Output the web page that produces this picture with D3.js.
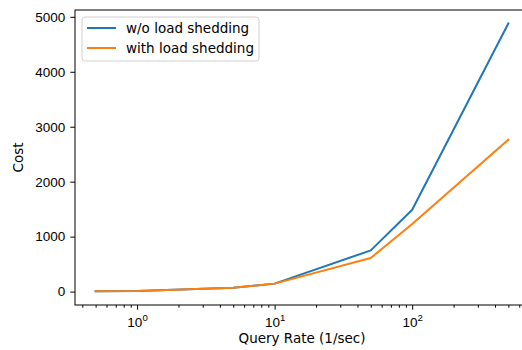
<!DOCTYPE html>
<html>
<head>
<meta charset="utf-8">
<script src="https://cdn.jsdelivr.net/npm/d3@7"></script>
<style>
  body { margin: 0; background: #fff; }
  svg { display: block; font-family: "DejaVu Sans", sans-serif; }
  .axis text { font-size: 13.5px; fill: #000; }
  .axis path, .axis line { stroke: #000; stroke-width: 1; }
</style>
</head>
<body>
<div id="chart"></div>
<script>
// query rates (1/sec)
var rates = [0.5, 1, 5, 10, 50, 100, 500];
// cost
var costNoShed   = [5, 12, 70, 145, 750, 1490, 4880];
var costWithShed = [5, 12, 70, 145, 612, 1230, 2765];
var seriesNames  = ['w/o load shedding', 'with load shedding'];
var seriesColors = ['#1f77b4', '#ff7f0e'];
var yTicks = [0, 1000, 2000, 3000, 4000, 5000];
var xMajorExps = [0, 1, 2];

var W = 522, H = 350;
var margin = { top: 10, right: -7, bottom: 45, left: 75 };
var width  = W - margin.left - margin.right;
var height = H - margin.top - margin.bottom;

var svg = d3.select('#chart').append('svg')
  .attr('width', W).attr('height', H);

var chart = svg.append('g')
  .attr('transform', 'translate(' + margin.left + ',' + margin.top + ')');

/* matplotlib-style 5% padding in log space */
var lx0 = Math.log10(d3.min(rates)), lx1 = Math.log10(d3.max(rates));
var padX = (lx1 - lx0) * 0.05;
var x = d3.scaleLog()
  .domain([Math.pow(10, lx0 - padX), Math.pow(10, lx1 + padX)])
  .range([0, width]);

var allY = costNoShed.concat(costWithShed);
var y0 = 0, y1 = d3.max(allY);
var padY = (y1 - y0) * 0.05;
var y = d3.scaleLinear()
  .domain([y0 - padY, y1 + padY])
  .range([height, 0]);

/* minor x ticks */
var minor = [];
[-1, 0, 1, 2].forEach(function (e) {
  for (var k = 2; k <= 9; k++) {
    var v = k * Math.pow(10, e);
    if (v >= x.domain()[0] && v <= x.domain()[1]) minor.push(v);
  }
});
chart.append('g')
  .attr('class', 'axis')
  .attr('transform', 'translate(0,' + height + ')')
  .call(d3.axisBottom(x).tickValues(minor).tickSize(2.7).tickFormat(''))
  .call(function (g) { g.select('.domain').remove(); });

/* major x ticks */
var xAxis = chart.append('g')
  .attr('class', 'axis')
  .attr('transform', 'translate(0,' + height + ')')
  .call(d3.axisBottom(x)
    .tickValues(xMajorExps.map(function (e) { return Math.pow(10, e); }))
    .tickSize(4.7).tickPadding(5).tickFormat(''));
xAxis.select('.domain').remove();
xAxis.selectAll('.tick').append('text')
  .attr('y', 22)
  .attr('text-anchor', 'middle')
  .each(function (d) {
    var t = d3.select(this);
    t.append('tspan').text('10');
    t.append('tspan').attr('dy', -6).style('font-size', '9.6px')
      .text(Math.round(Math.log10(d)));
  });

/* y axis */
var yAxis = chart.append('g')
  .attr('class', 'axis')
  .call(d3.axisLeft(y).tickValues(yTicks).tickSize(4.7).tickPadding(5)
    .tickFormat(d3.format('d')));
yAxis.select('.domain').remove();

/* spines */
chart.append('rect')
  .attr('width', width).attr('height', height)
  .attr('fill', 'none').attr('stroke', '#000').attr('stroke-width', 1);

/* lines */
var line = d3.line()
  .x(function (d, i) { return x(rates[i]); })
  .y(function (d) { return y(d); });

[costNoShed, costWithShed].forEach(function (s, i) {
  chart.append('path')
    .datum(s)
    .attr('fill', 'none')
    .attr('stroke', seriesColors[i])
    .attr('stroke-width', 2)
    .attr('stroke-linejoin', 'round')
    .attr('stroke-linecap', 'square')
    .attr('d', line);
});

/* legend */
var legend = svg.append('g').attr('transform', 'translate(82,17)');
legend.append('rect')
  .attr('width', 177).attr('height', 44).attr('rx', 3)
  .attr('fill', '#fff').attr('fill-opacity', 0.8)
  .attr('stroke', '#d0d0d0').attr('stroke-width', 1);
seriesNames.forEach(function (name, i) {
  var ly = 11 + i * 20;
  legend.append('line')
    .attr('x1', 5).attr('x2', 34).attr('y1', ly).attr('y2', ly)
    .attr('stroke', seriesColors[i]).attr('stroke-width', 2);
  legend.append('text')
    .attr('x', 44).attr('y', ly + 5)
    .style('font-size', '13.5px')
    .text(name);
});

/* axis labels */
svg.append('text')
  .attr('x', margin.left + width / 2).attr('y', 343)
  .attr('text-anchor', 'middle')
  .style('font-size', '13.5px')
  .text('Query Rate (1/sec)');

svg.append('text')
  .attr('transform', 'translate(23,' + (margin.top + height / 2) + ') rotate(-90)')
  .attr('text-anchor', 'middle')
  .style('font-size', '13.5px')
  .text('Cost');
</script>
</body>
</html>
